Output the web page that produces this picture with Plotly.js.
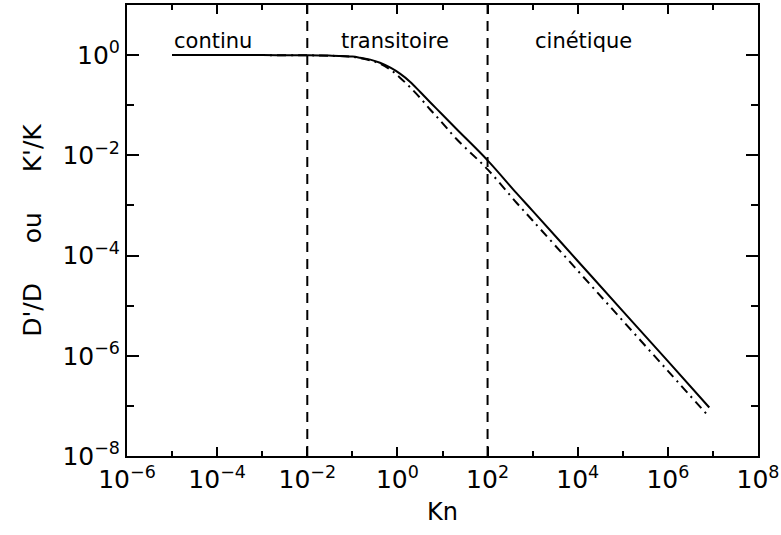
<!DOCTYPE html>
<html>
<head>
<meta charset="utf-8">
<script src="https://cdn.plot.ly/plotly-3.0.1.min.js"></script>
<style>html,body{margin:0;padding:0;background:#fff;}#chart{width:781px;height:535px;}</style>
</head>
<body>
<div id="chart"></div>
<script>
// Knudsen number samples
const kn = [1e-5, 1e-4, 1e-3, 1e-2, 0.03, 0.1, 0.148, 0.25, 0.41, 0.7, 1.14, 1.9, 3.17, 5.25, 8.81, 20.7, 100, 444, 1e3, 1e4, 1e5, 1e6, 8.3e6];
// solid curve
const ratioSolid = [1, 1, 1, 0.993, 0.977, 0.933, 0.887, 0.813, 0.705, 0.56, 0.427, 0.295, 0.186, 0.116, 0.0724, 0.0331, 0.00794, 0.00174, 7.8e-4, 7.8e-5, 7.8e-6, 7.8e-7, 9.3e-8];
// dash-dot curve
const ratioDashDot = [1, 1, 1, 0.991, 0.973, 0.923, 0.871, 0.785, 0.673, 0.51, 0.355, 0.229, 0.141, 0.0832, 0.0501, 0.0209, 0.00525, 0.00112, 5.0e-4, 5.0e-5, 5.0e-6, 5.0e-7, 6.0e-8];
// regime boundaries
const boundaries = [1e-2, 1e2];
const yLimits = [1e-8, 10];
// regime labels
const regimeNames = ['continu', 'transitoire', 'cinétique'];
const regimeKn = [1e-5, 0.05, 1e3];
const regimeY = 1.87;
// tick labels
const xTickVals = [1e-6, 1e-4, 1e-2, 1, 1e2, 1e4, 1e6, 1e8];
const xTickText = ['10<sup>−6</sup>', '10<sup>−4</sup>', '10<sup>−2</sup>', '10<sup>0</sup>', '10<sup>2</sup>', '10<sup>4</sup>', '10<sup>6</sup>', '10<sup>8</sup>'];
const yTickVals = [1e-8, 1e-6, 1e-4, 1e-2, 1];
const yTickText = ['10<sup>−8</sup>', '10<sup>−6</sup>', '10<sup>−4</sup>', '10<sup>−2</sup>', '10<sup>0</sup>'];

const FONT = 'DejaVu Sans, sans-serif';
const traces = [
  {x: kn, y: ratioSolid, mode: 'lines', line: {color: '#000', width: 2, shape: 'spline', smoothing: 1}, hoverinfo: 'none'},
  {x: kn, y: ratioDashDot, mode: 'lines', line: {color: '#000', width: 2, dash: '9px,5px,2px,5px', shape: 'spline', smoothing: 1}, hoverinfo: 'none'}
];
boundaries.forEach(b => traces.push({
  x: [b, b], y: yLimits, mode: 'lines', line: {color: '#000', width: 2, dash: '10px,7px'}, hoverinfo: 'none'
}));

const annotations = regimeNames.map((t, i) => ({
  x: Math.log10(regimeKn[i]), y: Math.log10(regimeY), xref: 'x', yref: 'y',
  text: t, showarrow: false, xanchor: 'left', yanchor: 'middle',
  font: {family: FONT, size: 21, color: '#000'}
}));

const layout = {
  width: 781, height: 535,
  margin: {l: 127, r: 23, t: 5, b: 79},
  paper_bgcolor: '#fff', plot_bgcolor: '#fff',
  showlegend: false,
  xaxis: {
    type: 'log', range: [-6, 8], showgrid: false, zeroline: false,
    showline: true, linecolor: '#000', linewidth: 2, mirror: 'allticks',
    ticks: 'inside', tickcolor: '#000', tickwidth: 2, ticklen: 9,
    tickmode: 'array', tickvals: xTickVals, ticktext: xTickText,
    tickfont: {family: FONT, size: 25, color: '#000'},
    minor: {dtick: 1, ticks: 'inside', ticklen: 5, tickcolor: '#000', tickwidth: 2, showgrid: false},
    title: {text: 'Kn', font: {family: FONT, size: 24, color: '#000'}, standoff: 10}
  },
  yaxis: {
    type: 'log', range: [-8, 1], showgrid: false, zeroline: false,
    showline: true, linecolor: '#000', linewidth: 2, mirror: 'allticks',
    ticks: 'inside', tickcolor: '#000', tickwidth: 2, ticklen: 12,
    tickmode: 'array', tickvals: yTickVals, ticktext: yTickText,
    tickfont: {family: FONT, size: 25, color: '#000'},
    minor: {dtick: 1, ticks: 'inside', ticklen: 7, tickcolor: '#000', tickwidth: 2, showgrid: false},
    title: {text: "D'/D\u00A0\u00A0\u00A0\u00A0\u00A0ou\u00A0\u00A0\u00A0\u00A0\u00A0K'/K", font: {family: FONT, size: 25, color: '#000'}, standoff: 14}
  },
  annotations: annotations
};

Plotly.newPlot('chart', traces, layout, {staticPlot: true, displayModeBar: false});
</script>
</body>
</html>
